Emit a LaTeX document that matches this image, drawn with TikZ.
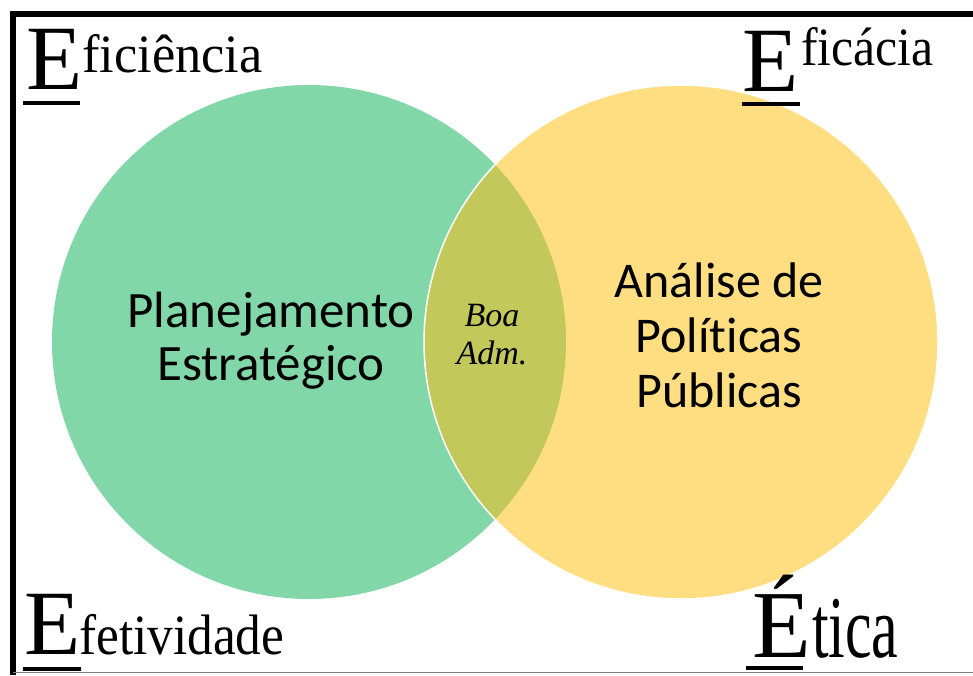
\documentclass[tikz,border=0pt]{standalone}
\usepackage{fontspec}
\setmainfont{Liberation Serif}
\newfontfamily\calibri[Ligatures=NoCommon]{Carlito}
\usepackage{xcolor}
\usepackage{tikz}
\usetikzlibrary{positioning}

\definecolor{setgreen}{HTML}{82D7A8}
\definecolor{setyellow}{HTML}{FFDE82}
\definecolor{setolive}{HTML}{C2C85A}

\begin{document}
\begin{tikzpicture}[x=1pt, y=-1pt,
  bigE/.style={inner sep=0pt, anchor=base west, font=\fontsize{92}{92}\selectfont},
  word/.style={inner sep=0pt, anchor=base west, font=\fontsize{54}{54}\selectfont},
  uline/.style={line width=4pt},
  setlabel/.style={align=center, inner sep=0pt, font=\calibri\fontsize{51}{53}\selectfont}]
  \useasboundingbox (0,0) rectangle (973,675);

  % frame
  \draw[line width=6pt] (13,675) -- (13,13.5) -- (973,13.5);
  \draw[gray, line width=1.2pt] (13,672.5) -- (973,672.5);

  % the two sets and their overlap
  \coordinate (cl) at (309,342);
  \coordinate (cr) at (681,342);
  \fill[setgreen] (cl) circle (257);
  \fill[setyellow] (cr) circle (257);
  \begin{scope}
    \clip (cl) circle (257);
    \fill[setolive] (cr) circle (257);
  \end{scope}
  \draw[white, line width=1.5pt] (cr) circle (257);

  \node[setlabel] (plan) at (271,341) {Planejamento\\Estratégico};
  \node[setlabel, font=\calibri\fontsize{50}{55}\selectfont] (apol) at (719,335) {Análise de\\Políticas\\Públicas};
  \node[align=center, inner sep=0pt, font=\itshape\fontsize{34}{38}\selectfont] (boa) at (492,335) {Boa\\Adm.};

  % the four E's
  \node[bigE] (eA) at (26,89) {E};
  \node[word, xscale=0.97] (wA) at (82,72) {ficiência};
  \node[bigE] (eB) at (742,91) {E};
  \node[word, xscale=0.92] (wB) at (801,65) {ficácia};
  \node[bigE] (eC) at (24,654) {E};
  \node[word, font=\fontsize{57}{57}\selectfont, xscale=0.9] (wC) at (79,654) {fetividade};
  \node[bigE, font=\fontsize{96}{96}\selectfont] (eD) at (752,657) {É};
  \node[word, font=\fontsize{88}{88}\selectfont, xscale=0.68] (wD) at (812,657) {tica};

  \foreach \a/\b/\y in {23/80/103, 742/800/104, 23/81/669, 746/803/668}
    \draw[uline] (\a,\y) -- (\b,\y);
\end{tikzpicture}
\end{document}
